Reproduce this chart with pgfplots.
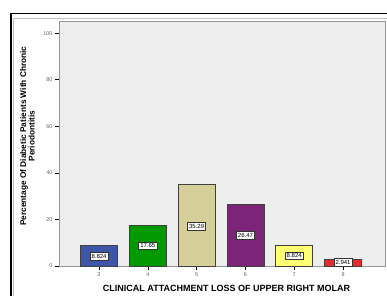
\documentclass[border=0pt]{standalone}
\usepackage{pgfplots}
\pgfplotsset{compat=1.18}
\usepackage{fontspec}
\setmainfont{Liberation Sans}
\definecolor{bgc}{RGB}{238,238,238}
\definecolor{c3}{RGB}{62,86,170}
\definecolor{c4}{RGB}{0,154,0}
\definecolor{c5}{RGB}{214,207,154}
\definecolor{c6}{RGB}{124,36,120}
\definecolor{c7}{RGB}{255,255,115}
\definecolor{c8}{RGB}{237,42,42}
\definecolor{framec}{RGB}{150,150,150}
\begin{document}
\begin{tikzpicture}[x=1pt,y=1pt]
\begin{axis}[
  name=ax,
  scale only axis, width=326pt, height=245pt,
  xmin=2.18, xmax=8.86, ymin=0, ymax=105.2,
  axis background/.style={fill=bgc},
  axis line style={draw=framec, line width=0.8pt},
  xtick={3,4,5,6,7,8}, ytick={0,20,40,60,80,100},
  tick align=outside, major tick length=4pt,
  tick style={black, line width=0.5pt},
  xtick pos=bottom, ytick pos=left,
  /pgf/number format/assume math mode=true,
  tick label style={font=\fontsize{5.5}{6}\selectfont, text=black!60},
  xticklabel style={yshift=1pt},
  yticklabel style={xshift=1pt},
  xlabel={\textbf{CLINICAL ATTACHMENT LOSS OF UPPER RIGHT MOLAR}},
  ylabel={\textbf{Percentage Of Diabetic Patients With Chronic}\\\textbf{Periodontitis}},
  xlabel style={font=\fontsize{9}{10}\selectfont, at={(axis description cs:0.514,-0.09)}, anchor=center},
  ylabel style={font=\fontsize{8.3}{8.6}\selectfont, at={(axis description cs:-0.097,0.53)}, anchor=center, align=center},
  ybar, bar width=37pt,
  every axis plot/.append style={bar shift=0pt, draw=black!75, line width=0.6pt},
  clip=false,
]
\addplot[fill=c3] coordinates {(3,8.824)};
\addplot[fill=c4] coordinates {(4,17.65)};
\addplot[fill=c5] coordinates {(5,35.29)};
\addplot[fill=c6] coordinates {(6,26.47)};
\addplot[fill=c7] coordinates {(7,8.824)};
\addplot[fill=c8] coordinates {(8,2.941)};
\addplot[draw=none, fill=none, only marks, mark=none,
  point meta=explicit symbolic,
  nodes near coords,
  every node near coord/.style={anchor=center, fill=white, draw=black!80, line width=0.5pt,
    inner sep=1.6pt, font=\fontsize{6}{6.5}\selectfont}]
  coordinates {(3,4.1)[8.824] (4,8.8)[17.65] (5,17.0)[35.29] (6,13.2)[26.47] (7,4.4)[8.824] (8,1.6)[2.941]};
\coordinate (O) at (rel axis cs:0,0);
\end{axis}
\useasboundingbox ([shift={(-59,-29)}]O) rectangle ([shift={(328,266)}]O);
\draw[line width=1.6pt] ([shift={(-48.2,-40)}]O) -- ([shift={(-48.2,252.5)}]O) -- ([shift={(350,252.5)}]O);
\draw[gray!50, line width=0.6pt] ([shift={(-45.5,-40)}]O) -- ([shift={(-45.5,248)}]O) -- ([shift={(350,248)}]O);
\end{tikzpicture}
\end{document}
